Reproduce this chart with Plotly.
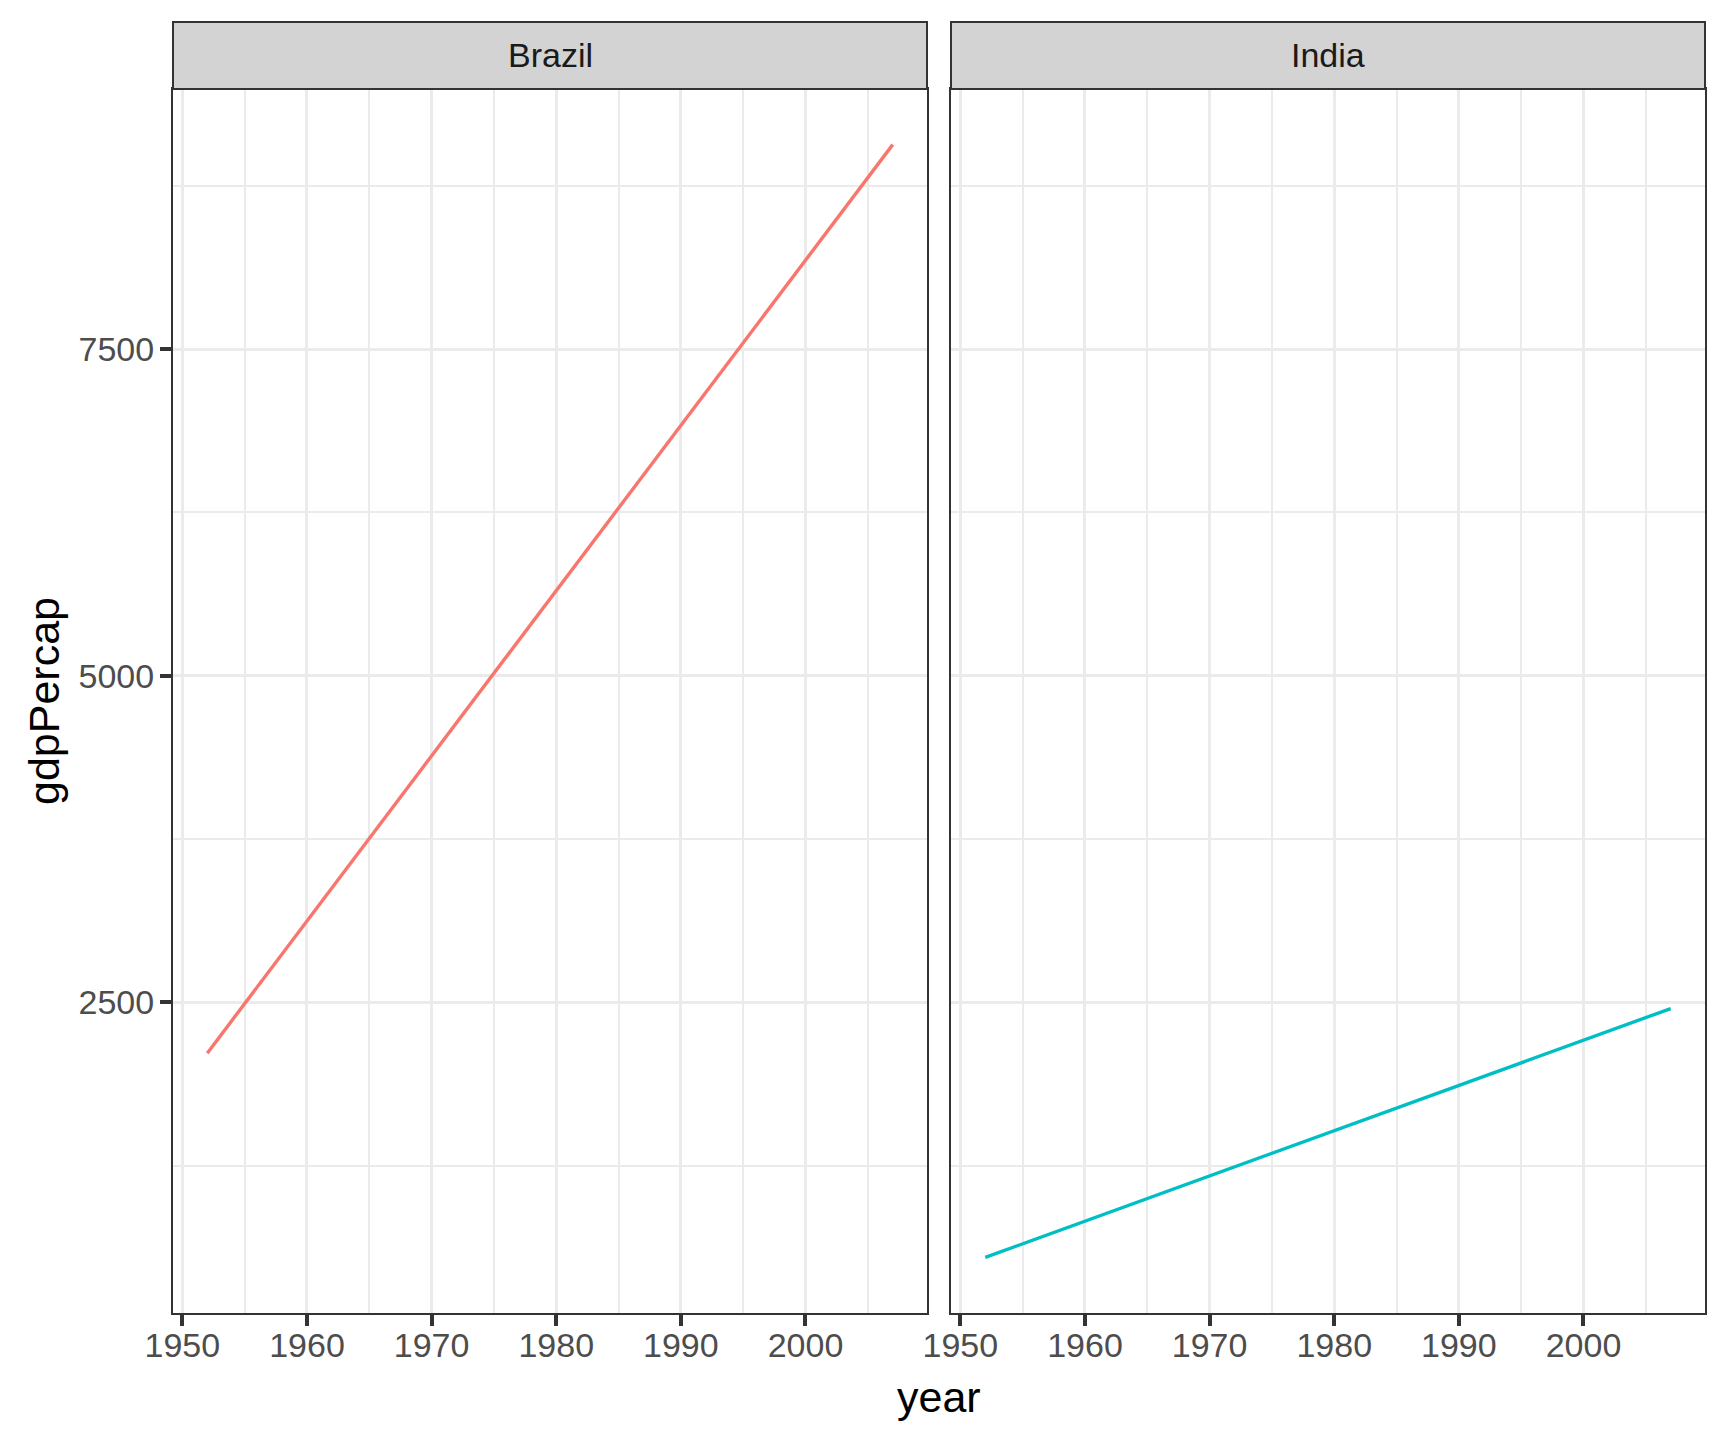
import plotly.graph_objects as go
from plotly.subplots import make_subplots

# ── data ─────────────────────────────────────────────────────────────────────
countries = ["Brazil", "India"]
years = [1952, 2007]
brazil_gdp = [2110, 9066]
india_gdp = [547, 2452]

x_ticks = [1950, 1960, 1970, 1980, 1990, 2000]
y_ticks = [2500, 5000, 7500]

_COLORS = {"Brazil": "#F8766D", "India": "#00BFC4"}

# the page body keeps its default 8px margin, so the figure is 8px smaller
OFF = 8
W, H = 1728 - OFF, 1440 - OFF
FONT = "Liberation Sans, Arial, Helvetica, sans-serif"


def px_x(p):
    return (p - OFF) / W


def px_y(p):
    return 1 - (p - OFF) / H


def expand(lo, hi, mult=0.05):
    pad = (hi - lo) * mult
    return [lo - pad, hi + pad]


x_range = expand(min(years), max(years))
y_range = expand(min(brazil_gdp + india_gdp), max(brazil_gdp + india_gdp))

# panel geometry in screen pixels (left, right), shared top/bottom
panels = [(173, 927), (951, 1705)]
panel_top, panel_bottom = 89, 1313
strip_top = 22

fig = make_subplots(rows=1, cols=2, shared_yaxes=True)

for i, (name, vals) in enumerate(zip(countries, [brazil_gdp, india_gdp])):
    fig.add_trace(go.Scatter(
        x=years, y=vals, mode="lines", name=name,
        line=dict(color=_COLORS[name], width=3.4),
        showlegend=False,
    ), row=1, col=i + 1)

y_dom = [px_y(panel_bottom), px_y(panel_top)]

for i, (l, r) in enumerate(panels):
    sfx = "" if i == 0 else str(i + 1)
    fig.layout["xaxis" + sfx].update(
        domain=[px_x(l), px_x(r)], range=x_range, automargin=False,
        tickvals=x_ticks, ticks="outside", ticklen=11, tickwidth=3.5,
        tickcolor="#333333", ticklabelstandoff=-10,
        tickfont=dict(size=34, color="#4D4D4D", family=FONT),
        showgrid=True, gridcolor="#EBEBEB", gridwidth=3.2,
        minor=dict(dtick=5, tick0=1955, showgrid=True,
                   gridcolor="#EBEBEB", gridwidth=1.7),
        showline=True, mirror=True, linecolor="#333333", linewidth=2,
        zeroline=False,
    )
    fig.layout["yaxis" + sfx].update(
        domain=y_dom, range=y_range, automargin=False,
        tickvals=y_ticks,
        ticks="outside" if i == 0 else "", ticklen=11, tickwidth=3.5,
        tickcolor="#333333", ticklabelstandoff=-1,
        showticklabels=(i == 0),
        tickfont=dict(size=34, color="#4D4D4D", family=FONT),
        showgrid=True, gridcolor="#EBEBEB", gridwidth=3.2,
        minor=dict(dtick=1250, tick0=1250, showgrid=True,
                   gridcolor="#EBEBEB", gridwidth=1.7),
        showline=True, mirror=True, linecolor="#333333", linewidth=2,
        zeroline=False,
    )
    # facet strip
    fig.add_shape(
        type="rect", xref="paper", yref="paper",
        x0=px_x(l), x1=px_x(r), y0=px_y(panel_top), y1=px_y(strip_top),
        fillcolor="#D3D3D3", line=dict(color="#333333", width=2),
        layer="above",
    )
    fig.add_annotation(
        text=countries[i], xref="paper", yref="paper",
        x=px_x((l + r) / 2), y=px_y((panel_top + strip_top) / 2),
        showarrow=False, font=dict(size=34, color="#1A1A1A", family=FONT),
        xanchor="center", yanchor="middle",
    )

# axis titles
fig.add_annotation(
    text="year", xref="paper", yref="paper",
    x=px_x((panels[0][0] + panels[1][1]) / 2), y=px_y(1397),
    showarrow=False, font=dict(size=43, color="#000000", family=FONT),
    xanchor="center", yanchor="middle",
)
fig.add_annotation(
    text="gdpPercap", xref="paper", yref="paper",
    x=px_x(44), y=px_y((panel_top + panel_bottom) / 2), textangle=-90,
    showarrow=False, font=dict(size=43, color="#000000", family=FONT),
    xanchor="center", yanchor="middle",
)

fig.update_layout(
    width=W, height=H,
    margin=dict(l=0, r=0, t=0, b=0),
    paper_bgcolor="white", plot_bgcolor="white",
    font=dict(family=FONT),
)

fig.write_html("out.html")
